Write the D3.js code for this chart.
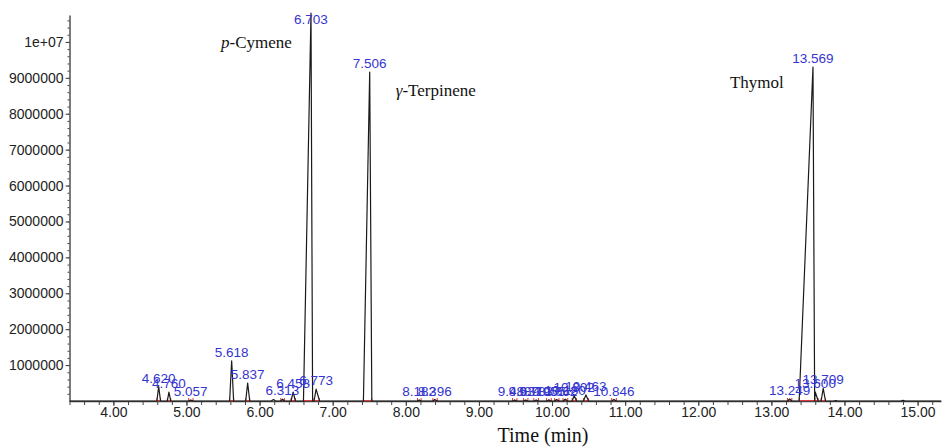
<!DOCTYPE html>
<html>
<head>
<meta charset="utf-8">
<script src="https://cdn.jsdelivr.net/npm/d3@7/dist/d3.min.js"></script>
<style>
    html, body { margin: 0; padding: 0; background: #fff; }
    svg { display: block; }
    .axis text { font-family: Arial, "Liberation Sans", sans-serif; font-size: 14px; fill: #222; }
    .axis path, .axis line { stroke: #444; }
    .peak-label { font-family: Arial, "Liberation Sans", sans-serif; font-size: 13.5px; fill: #3535cf; }
    .compound { font-family: "Times New Roman", "Liberation Serif", serif; font-size: 17px; fill: #111; }
</style>
</head>
<body>
<div id="chart"></div>
<script>
(function () {
    'use strict';

    // retention times (min) of the integrated peaks, with heights (counts) and integration limits
    var peakTimes   = [4.620, 4.760, 5.057, 5.618, 5.837, 6.313, 6.458, 6.703, 6.773, 7.506,
                       8.182, 8.396, 9.488, 9.637, 9.783, 9.955, 10.062, 10.180, 10.302, 10.463,
                       10.846, 13.249, 13.569, 13.600, 13.709];
    var peakHeights = [400000, 250000, 30000, 1120000, 500000, 50000, 250000, 10800000, 330000, 9160000,
                       30000, 40000, 30000, 30000, 30000, 30000, 40000, 50000, 150000, 170000,
                       40000, 60000, 9300000, 250000, 350000];
    var peakStarts  = [4.595, 4.738, 5.030, 5.590, 5.810, 6.290, 6.430, 6.600, 6.745, 7.420,
                       8.160, 8.370, 9.460, 9.610, 9.750, 9.925, 10.035, 10.150, 10.275, 10.430,
                       10.815, 13.220, 13.380, 13.592, 13.680];
    var peakEnds    = [4.645, 4.785, 5.090, 5.645, 5.865, 6.340, 6.490, 6.725, 6.820, 7.535,
                       8.210, 8.430, 9.520, 9.670, 9.815, 9.990, 10.095, 10.215, 10.335, 10.500,
                       10.880, 13.280, 13.592, 13.640, 13.740];

    // small unlabelled bumps in the trace
    var bumpTimes   = [6.190, 13.880, 14.800];
    var bumpHeights = [40000, 15000, 20000];

    var compounds      = ['p-Cymene', 'γ-Terpinene', 'Thymol'];
    var compoundTimes  = [6.703, 7.506, 13.569];

    var xMajorTicks = [4, 5, 6, 7, 8, 9, 10, 11, 12, 13, 14, 15];
    var xTickLabels = ['4.00', '5.00', '6.00', '7.00', '8.00', '9.00', '10.00', '11.00', '12.00', '13.00', '14.00', '15.00'];
    var yTicks      = [1000000, 2000000, 3000000, 4000000, 5000000, 6000000, 7000000, 8000000, 9000000, 10000000];
    var yTickLabels = ['1000000', '2000000', '3000000', '4000000', '5000000', '6000000', '7000000', '8000000', '9000000', '1e+07'];

    var width = 944;
    var height = 447;

    var svg = d3.select('#chart').append('svg')
        .attr('width', width)
        .attr('height', height);

    var x = d3.scaleLinear().domain([3.4, 15.32]).range([69.5, 941]);
    var y = d3.scaleLinear().domain([0, 10750000]).range([401, 15]);

    // minor ticks first so the major axis draws over them
    svg.append('g')
        .attr('class', 'axis')
        .attr('transform', 'translate(0,' + y(0) + ')')
        .call(d3.axisBottom(x).tickValues(d3.range(3.4, 15.31, 0.2)).tickFormat('').tickSize(4).tickSizeOuter(0))
        .select('.domain').remove();

    svg.append('g')
        .attr('class', 'axis')
        .attr('transform', 'translate(' + x(3.4) + ',0)')
        .call(d3.axisLeft(y).tickValues(d3.range(200000, 10750000, 200000)).tickFormat('').tickSize(2).tickSizeOuter(0))
        .select('.domain').remove();

    var xAxis = svg.append('g')
        .attr('class', 'axis')
        .attr('transform', 'translate(0,' + y(0) + ')')
        .call(d3.axisBottom(x)
            .tickValues(xMajorTicks)
            .tickFormat(function (d, i) { return xTickLabels[i]; })
            .tickSize(5)
            .tickPadding(1)
            .tickSizeOuter(0));
    xAxis.select('.domain').attr('stroke-width', 1.4);

    var yAxis = svg.append('g')
        .attr('class', 'axis')
        .attr('transform', 'translate(' + x(3.4) + ',0)')
        .call(d3.axisLeft(y)
            .tickValues(yTicks)
            .tickFormat(function (d, i) { return yTickLabels[i]; })
            .tickSize(4)
            .tickPadding(2)
            .tickSizeOuter(0));
    yAxis.select('.domain').attr('stroke-width', 1.4);

    // build the trace vertices from the peak table
    var trace = [[3.4, 0]];
    peakTimes.forEach(function (t, i) {
        trace.push([peakStarts[i], 0]);
        trace.push([t, peakHeights[i]]);
        trace.push([peakEnds[i], 0]);
    });
    bumpTimes.forEach(function (t, i) {
        trace.push([t - 0.03, 0]);
        trace.push([t, bumpHeights[i]]);
        trace.push([t + 0.03, 0]);
    });
    trace.push([15.32, 0]);
    trace.sort(function (a, b) { return a[0] - b[0]; });

    // integration baselines in red
    var base = svg.append('g').attr('class', 'baselines');
    peakTimes.forEach(function (t, i) {
        base.append('line')
            .attr('x1', x(peakStarts[i])).attr('x2', x(peakEnds[i]))
            .attr('y1', y(0) - 0.5).attr('y2', y(0) - 0.5)
            .attr('stroke', '#e03a3a').attr('stroke-width', 1);
        [peakStarts[i], peakEnds[i]].forEach(function (b) {
            base.append('line')
                .attr('x1', x(b)).attr('x2', x(b))
                .attr('y1', y(0)).attr('y2', y(0) - 3)
                .attr('stroke', '#e03a3a').attr('stroke-width', 1);
        });
    });

    var line = d3.line()
        .x(function (d) { return x(d[0]); })
        .y(function (d) { return y(d[1]); });

    svg.append('path')
        .datum(trace)
        .attr('d', line)
        .attr('fill', 'none')
        .attr('stroke', '#1a1a1a')
        .attr('stroke-width', 1.2)
        .attr('stroke-linejoin', 'round');

    // retention time labels above each apex
    svg.selectAll('.peak-label')
        .data(peakTimes)
        .enter()
        .append('text')
        .attr('class', 'peak-label')
        .attr('text-anchor', 'middle')
        .attr('x', function (t) { return x(t); })
        .attr('y', function (t, i) { return Math.max(y(peakHeights[i]) - 4, 24); })
        .text(function (t) { return t.toFixed(3); });

    // compound names
    var cy = svg.append('text').attr('class', 'compound')
        .attr('x', x(compoundTimes[0]) - 90).attr('y', 48);
    cy.append('tspan').attr('font-style', 'italic').text(compounds[0].charAt(0));
    cy.append('tspan').text(compounds[0].slice(1));

    var gt = svg.append('text').attr('class', 'compound')
        .attr('x', x(compoundTimes[1]) + 26).attr('y', 96);
    gt.append('tspan').attr('font-style', 'italic').text(compounds[1].charAt(0));
    gt.append('tspan').text(compounds[1].slice(1));

    svg.append('text').attr('class', 'compound')
        .attr('x', x(compoundTimes[2]) - 83).attr('y', 88)
        .attr('font-size', '17.5px')
        .text(compounds[2]);

    svg.append('text')
        .attr('x', 543).attr('y', 442)
        .attr('text-anchor', 'middle')
        .attr('font-family', '"Times New Roman", "Liberation Serif", serif')
        .attr('font-size', '20px')
        .attr('fill', '#111')
        .text('Time (min)');
})();
</script>
</body>
</html>
